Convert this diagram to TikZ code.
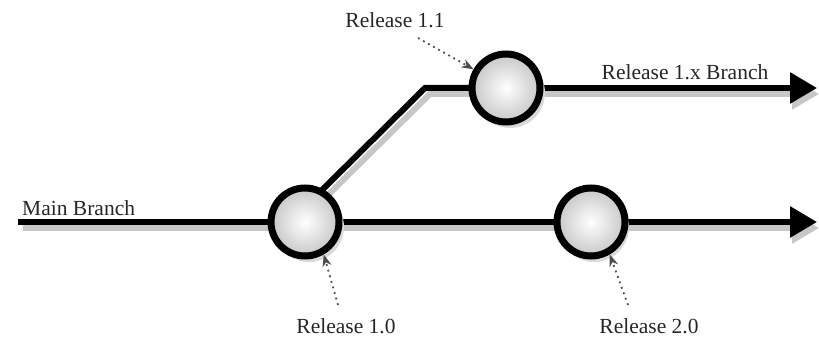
\documentclass[tikz,border=0pt]{standalone}
\usepackage{fontspec}
\setmainfont{Liberation Serif}
\usetikzlibrary{arrows.meta,calc}
\begin{document}
\begin{tikzpicture}[x=1pt,y=-1pt,
  branch/.style={line width=6pt,draw=black,-{Triangle[length=27pt,width=30pt]}},
  branchshadow/.style={line width=6pt,draw=black!22,-{Triangle[length=27pt,width=30pt]}},
  rel/.style={circle,draw=black,line width=7pt,minimum size=68pt,inner sep=0pt,inner color=white,outer color=black!22},
  relshadow/.style={circle,fill=black!15,minimum size=70pt,inner sep=0pt},
  lbl/.style={font=\fontsize{21.5}{24}\selectfont,text=black!85,inner sep=0pt,anchor=base},
  pointer/.style={line width=1.8pt,draw=black!70,dash pattern=on 1.8pt off 4pt,-{Stealth[length=12pt,width=9pt]}}]
\useasboundingbox (0,0) rectangle (819,339);
% coordinates
\coordinate (ms) at (18,222);
\coordinate (me) at (817,222);
\coordinate (bc) at (425,88);
\coordinate (be) at (817,88);
\coordinate (bs) at (320,192);
\coordinate (msS) at (23,228);
\coordinate (meS) at (819,228);
\coordinate (bsS) at (326,197);
\coordinate (bcS) at (430,94);
\coordinate (beS) at (819,94);
% shadows
\draw[branchshadow] (msS) -- (meS);
\draw[branchshadow] (bsS) -- (bcS) -- (beS);
% branches
\draw[branch] (ms) -- (me);
\draw[branch,-] (bs) -- (bc) -- (480,88);
\draw[branch] (530,88) -- (be);
% circle shadows
\node[relshadow] at (309,227) {};
\node[relshadow] at (594,227) {};
\node[relshadow] at (510,93) {};
% releases
\node[rel] (r10) at (305,222) {};
\node[rel] (r20) at (591,222) {};
\node[rel] (r11) at (506,88) {};
% labels
\node[lbl] (l11) at (395,28) {Release 1.1};
\node[lbl] (l1x) at (685,80) {Release 1.x Branch};
\node[lbl,anchor=base west] (lmain) at (22,215) {Main Branch};
\node[lbl] (l10) at (346,333) {Release 1.0};
\node[lbl] (l20) at (649,333) {Release 2.0};
% pointers
\draw[pointer] (418,38) -- (r11.150);
\draw[pointer] (338,305) -- (r10.-60);
\draw[pointer] (628,305) -- (r20.-60);
\end{tikzpicture}
\end{document}
